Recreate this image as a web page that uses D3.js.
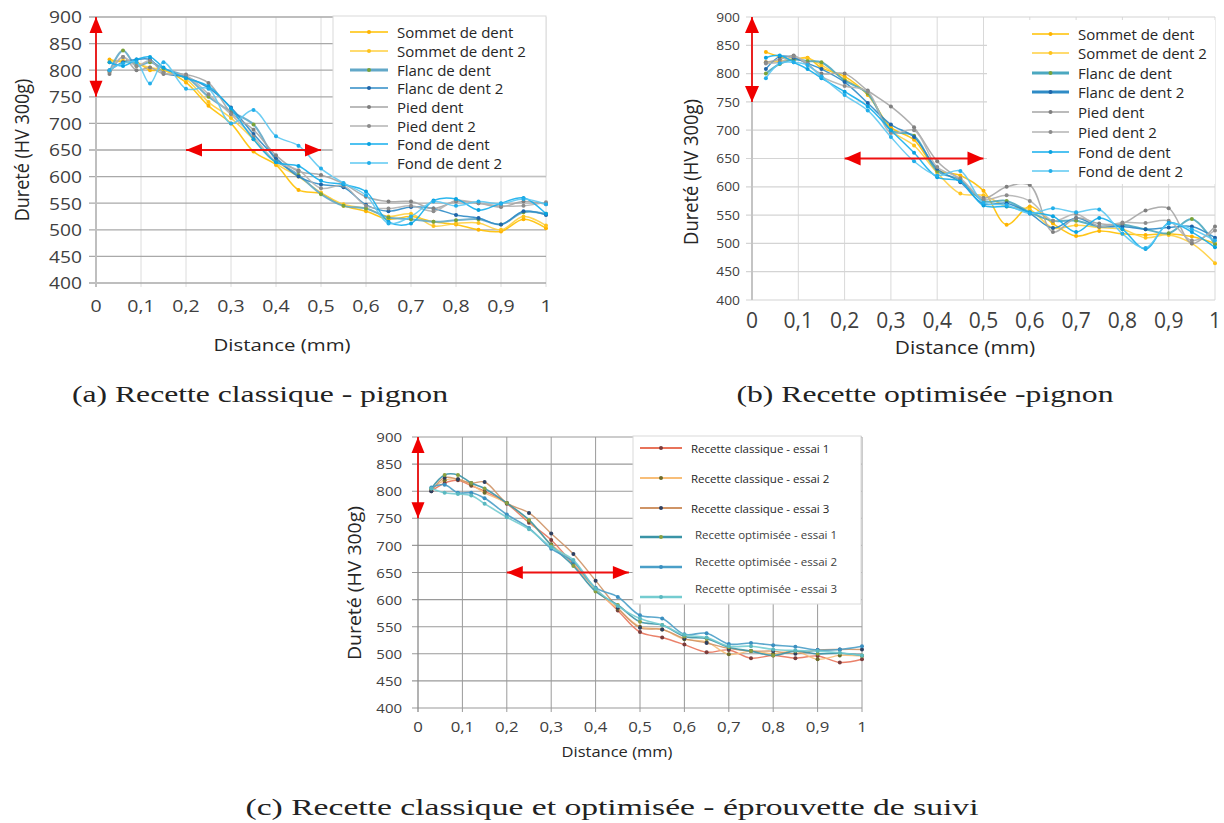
<!DOCTYPE html>
<html><head><meta charset="utf-8">
<script src="https://cdn.jsdelivr.net/npm/d3@7"></script>
<style>html,body{margin:0;padding:0;background:#fff;}svg{display:block;}</style>
</head><body>
<svg id="c" width="1224" height="823"></svg>
<script>
// ---------- data ----------
const distances = [0.03,0.06,0.09,0.12,0.15,0.2,0.25,0.3,0.35,0.4,0.45,0.5,0.55,0.6,0.65,0.7,0.75,0.8,0.85,0.9,0.95,1];
const xTickVals = [0,0.1,0.2,0.3,0.4,0.5,0.6,0.7,0.8,0.9,1];
const xTickLabels = ["0","0,1","0,2","0,3","0,4","0,5","0,6","0,7","0,8","0,9","1"];
const yTickVals = [400,450,500,550,600,650,700,750,800,850,900];

const namesAB = ["Sommet de dent","Sommet de dent 2","Flanc de dent","Flanc de dent 2","Pied dent","Pied dent 2","Fond de dent","Fond de dent 2"];
const namesC = ["Recette classique - essai 1","Recette classique - essai 2","Recette classique - essai 3","Recette optimisée - essai 1","Recette optimisée - essai 2","Recette optimisée - essai 3"];

// (a) Recette classique - pignon
const aSommet1 = [820,815,815,800,800,777,733,700,647,622,575,568,545,535,520,525,515,510,500,497,520,503];
const aSommet2 = [815,818,812,805,800,783,740,710,670,625,600,570,548,540,525,530,507,512,513,500,525,508];
const aFlanc1  = [797,837,808,815,803,788,750,722,698,632,603,567,545,540,523,520,515,518,520,510,533,530];
const aFlanc2  = [800,815,820,820,795,787,767,730,680,635,600,585,580,547,535,543,540,528,522,510,535,528];
const aPied1   = [793,825,800,805,793,792,776,720,688,640,610,603,587,562,553,553,540,553,550,543,553,548];
const aPied2   = [797,825,808,818,795,790,755,717,675,628,612,578,583,545,540,545,535,555,550,545,545,552];
const aFond1   = [815,808,820,825,805,785,770,728,670,627,620,592,585,572,515,512,555,558,537,550,560,530];
const aFond2   = [800,813,815,775,815,765,765,700,725,676,658,615,588,565,512,525,553,545,553,549,558,548];

// (b) Recette optimisée - pignon
const bSommet1 = [838,830,825,828,810,795,762,705,683,630,620,593,533,565,535,513,522,517,515,517,512,500];
const bSommet2 = [820,822,825,827,815,790,765,700,673,625,588,585,565,560,527,532,528,525,510,515,500,465];
const bFlanc1  = [800,817,825,822,820,788,765,700,690,628,612,575,575,555,540,540,530,533,525,518,543,498];
const bFlanc2  = [808,830,828,818,808,785,748,710,688,632,608,570,571,553,527,545,530,530,525,528,530,510];
const bPied1   = [820,825,832,815,800,800,770,742,705,645,612,580,600,603,520,545,535,535,558,562,500,530];
const bPied2   = [818,820,830,818,795,778,768,695,700,635,615,578,585,575,540,552,530,537,536,540,505,523];
const bFond1   = [828,832,820,808,792,768,742,700,660,617,610,567,565,555,548,520,545,525,490,536,520,493];
const bFond2   = [792,818,820,815,795,762,735,688,645,620,628,572,568,553,562,555,560,517,492,535,525,505];

// (c) Recette classique et optimisée - éprouvette de suivi
const cClass1 = [800,815,820,810,800,777,742,710,665,620,580,540,530,517,503,507,492,497,492,496,484,490];
const cClass2 = [803,820,822,812,797,778,745,702,668,618,583,550,545,527,522,499,505,500,505,490,497,496];
const cClass3 = [800,825,822,815,817,778,760,722,684,635,585,548,545,528,520,510,505,505,500,507,508,508];
const cOpt1   = [805,830,830,815,805,778,747,700,662,615,590,559,553,532,528,512,505,497,505,500,501,497];
const cOpt2   = [807,812,797,797,787,757,732,694,670,622,605,571,565,536,538,518,520,516,513,507,508,514];
const cOpt3   = [805,797,795,792,777,752,730,697,673,620,588,565,553,535,530,514,514,508,506,505,502,497];

// red arrows [x1, y1, x2, y2] in data units
const arrowsAB = [[0,900,0,750],[0.2,650,0.5,650]];
const arrowsC  = [[0,900,0,750],[0.2,650,0.475,650]];

const captions = ["(a) Recette classique - pignon","(b) Recette optimisée -pignon","(c) Recette classique et optimisée - éprouvette de suivi"];

// ---------- styles ----------
const colorsAB = ["#FFC000","#FFCF3F","#62A8C8","#2E8BC6","#A5A5A5","#B3B3B3","#14AEEC","#5CC8F2"];
const markersAB = ["#FFB300","#FFC21A","#7AA33A","#1F64A8","#7F7F7F","#8C8C8C","#0AA2E0","#22AEEA"];
const widthsAB = [1.5,1.5,2,1.5,1.5,1.5,1.5,1.5];
const colorsC = ["#E8735A","#F8BE78","#CF9466","#3A94A6","#4A9FC8","#74CCD0"];
const markersC = ["#7A3B3B","#6B6B2B","#2F3F5F","#8AA040","#3B8FC0","#5AB8C0"];

const FONT = "'Open Sans', sans-serif";
const svg = d3.select("#c");

function txt(parent, x, y, s, o) {
  const g = parent.append("g").attr("transform",
    `translate(${x},${y}) scale(${o.sx||1},${o.sy||1})` + (o.rot ? ` rotate(${o.rot})` : ""));
  const t = g.append("text")
    .attr("text-anchor", o.anchor || "start")
    .attr("dominant-baseline", o.base || "auto")
    .style("font-family", o.family || FONT)
    .style("font-size", o.size + "px")
    .style("font-weight", o.weight || 400)
    .attr("fill", o.color || "#404040")
    .text(s);
  if (o.len) t.attr("textLength", o.len).attr("lengthAdjust", "spacingAndGlyphs");
  return t;
}

function arrow(g, x, y, a, hl, hw) {
  const x1 = x(a[0]), y1 = y(a[1]), x2 = x(a[2]), y2 = y(a[3]);
  g.append("line").attr("x1", x1).attr("y1", y1).attr("x2", x2).attr("y2", y2)
    .attr("stroke", "#EE1111").attr("stroke-width", 1.8);
  const head = (tx, ty, dx, dy) => {
    const L = Math.hypot(dx, dy), ux = dx / L, uy = dy / L;
    const bx = tx - ux * hl, by = ty - uy * hl;
    g.append("path").attr("d",
      `M${tx},${ty}L${bx - uy * hw},${by + ux * hw}L${bx + uy * hw},${by - ux * hw}Z`)
      .attr("fill", "#F00000");
  };
  head(x1, y1, x1 - x2, y1 - y2);
  head(x2, y2, x2 - x1, y2 - y1);
}

function drawChart(cfg) {
  const x = d3.scaleLinear().domain([0, 1]).range([cfg.x0, cfg.x1]);
  const y = d3.scaleLinear().domain([400, 900]).range([cfg.yB, cfg.yT]);
  const g = svg.append("g");

  // vertical grid
  g.selectAll("line.vg").data(xTickVals.slice(1)).join("line")
    .attr("x1", d => x(d)).attr("x2", d => x(d))
    .attr("y1", y(900)).attr("y2", y(400) + cfg.tick)
    .attr("stroke", cfg.vGrid).attr("stroke-width", 1);
  // horizontal grid
  g.selectAll("line.hg").data(yTickVals).join("line")
    .attr("x1", x(0) - cfg.ext).attr("x2", x(1))
    .attr("y1", d => y(d)).attr("y2", d => y(d))
    .attr("stroke", cfg.hGrid).attr("stroke-width", cfg.hW);
  // y axis
  g.append("line").attr("x1", x(0)).attr("x2", x(0)).attr("y1", y(900)).attr("y2", y(400) + cfg.tick)
    .attr("stroke", cfg.axis).attr("stroke-width", cfg.axisW);

  // tick labels
  yTickVals.forEach(v => txt(g, cfg.yLabX, y(v), String(v),
    {size: cfg.yLabSize, anchor: "end", base: "central", sx: cfg.yLabSx, color: cfg.labColor}));
  xTickVals.forEach((v, i) => txt(g, x(v), cfg.xLabY, xTickLabels[i],
    {size: cfg.xLabSize, anchor: "middle", sx: cfg.xLabSx, color: cfg.labColor}));

  // titles
  txt(g, cfg.xTitle[0], cfg.xTitle[1], "Distance (mm)",
    {size: cfg.xTitleSize, anchor: "middle", sx: cfg.xTitleSx, color: cfg.titleColor});
  txt(g, cfg.yTitle[0], cfg.yTitle[1], "Dureté (HV 300g)",
    {size: cfg.yTitleSize, anchor: "middle", base: "central", rot: -90, sy: cfg.yTitleSy, color: cfg.titleColor});

  // series
  const line = d3.line().x(d => x(d[0])).y(d => y(d[1])).curve(d3.curveCatmullRom.alpha(0.5));
  cfg.series.forEach((s, i) => {
    const pts = distances.map((d, k) => [d, s[k]]);
    g.append("path").datum(pts).attr("d", line).attr("fill", "none")
      .attr("stroke", cfg.colors[i]).attr("stroke-width", cfg.widths[i]).attr("stroke-opacity", 0.9);
    g.selectAll(null).data(pts).join("circle")
      .attr("cx", d => x(d[0])).attr("cy", d => y(d[1])).attr("r", 2)
      .attr("fill", cfg.markers[i]);
  });

  // arrows
  cfg.arrows.forEach(a => arrow(g, x, y, a, cfg.headL, cfg.headW));

  // legend
  const L = cfg.legend;
  g.append("rect").attr("x", L.x).attr("y", L.y).attr("width", L.w).attr("height", L.h)
    .attr("fill", "#fff").attr("stroke", L.stroke).attr("stroke-width", 1);
  cfg.names.forEach((n, i) => {
    const ly = L.lineY[i];
    g.append("line").attr("x1", L.lx0).attr("x2", L.lx1).attr("y1", ly).attr("y2", ly)
      .attr("stroke", cfg.colors[i]).attr("stroke-width", L.lw[i]);
    g.append("circle").attr("cx", (L.lx0 + L.lx1) / 2).attr("cy", ly).attr("r", 2).attr("fill", cfg.markers[i]);
    txt(g, L.tx[i], L.textY[i], n, {size: L.size, base: "central", color: L.color[i], sx: L.sx || 1});
  });
}

// (a)
drawChart({
  x0: 96, x1: 546, yT: 17, yB: 283, tick: 4, ext: 7,
  hGrid: "#A9A9A9", hW: 1.3, vGrid: "#DCDCDC", axis: "#BFBFBF", axisW: 2,
  yLabX: 82, yLabSize: 16, yLabSx: 1.2, xLabY: 312, xLabSize: 17, xLabSx: 1.15, labColor: "#404040",
  xTitle: [282, 351], xTitleSize: 17, xTitleSx: 1.2, yTitle: [22, 150], yTitleSize: 20, yTitleSy: 0.9, titleColor: "#262626",
  series: [aSommet1,aSommet2,aFlanc1,aFlanc2,aPied1,aPied2,aFond1,aFond2],
  colors: colorsAB, markers: markersAB, widths: widthsAB, names: namesAB,
  arrows: arrowsAB, headL: 16, headW: 6.5,
  legend: {x: 333, y: 16, w: 213, h: 160, stroke: "#D9D9D9", lx0: 350, lx1: 388,
    lineY: [32,51,70,88,107,126,144,163], textY: [32,51,70,88,107,126,144,163],
    tx: Array(8).fill(397), size: 15, color: Array(8).fill("#262626"),
    lw: [1.5,1.5,3,1.5,1.5,1.5,1.5,1.5]}
});

// (b)
drawChart({
  x0: 752, x1: 1215, yT: 17, yB: 300, tick: 0, ext: 6,
  hGrid: "#D4D4D4", hW: 1.2, vGrid: "#D9D9D9", axis: "#C4C4C4", axisW: 2,
  yLabX: 740, yLabSize: 12, yLabSx: 1.15, xLabY: 328, xLabSize: 21, xLabSx: 1, labColor: "#404040",
  xTitle: [965, 354], xTitleSize: 19, xTitleSx: 1.1, yTitle: [690, 172], yTitleSize: 20, yTitleSy: 0.92, titleColor: "#262626",
  series: [bSommet1,bSommet2,bFlanc1,bFlanc2,bPied1,bPied2,bFond1,bFond2],
  colors: colorsAB.map((c,i) => i===2 ? "#4BA8C0" : c), markers: markersAB, widths: widthsAB, names: namesAB,
  arrows: arrowsAB, headL: 16, headW: 7,
  legend: {x: 987, y: 20, w: 228, h: 164, stroke: "none", lx0: 1032, lx1: 1069,
    lineY: [34,53,73,92,112,132,152,171], textY: [34,53,73,92,112,132,152,171],
    tx: Array(8).fill(1078), size: 15, color: Array(8).fill("#262626"),
    lw: [1.5,1.5,3,3,1.5,1.5,1.5,1.5]}
});

// (c)
drawChart({
  x0: 418, x1: 862, yT: 437, yB: 708, tick: 4, ext: 6,
  hGrid: "#9A9A9A", hW: 1.1, vGrid: "#9A9A9A", axis: "#8A8A8A", axisW: 1.3,
  yLabX: 402, yLabSize: 13, yLabSx: 1.15, xLabY: 732, xLabSize: 14, xLabSx: 1.2, labColor: "#404040",
  xTitle: [617, 757], xTitleSize: 15, xTitleSx: 1.1, yTitle: [354, 583], yTitleSize: 18, yTitleSy: 1.08, titleColor: "#262626",
  series: [cClass1,cClass2,cClass3,cOpt1,cOpt2,cOpt3],
  colors: colorsC, markers: markersC, widths: [1.4,1.4,1.4,1.6,1.6,1.6], names: namesC,
  arrows: arrowsC, headL: 16, headW: 6.5,
  legend: {x: 633, y: 436, w: 228, h: 168, stroke: "#D9D9D9", lx0: 640, lx1: 682,
    lineY: [448,478,508,537,567,597], textY: [448,478,508,534,561,588],
    tx: [691,691,691,695,695,695], size: 11.5, color: ["#262626","#262626","#262626","#404040","#404040","#404040"],
    lw: [2,2,2,2.5,2.5,2.5]}
});

// captions
const capFont = "'Liberation Serif', 'DejaVu Serif', serif";
txt(svg, 260, 402, captions[0], {size: 24, anchor: "middle", family: capFont, color: "#222", len: 376});
txt(svg, 925, 402, captions[1], {size: 24, anchor: "middle", family: capFont, color: "#222", len: 377});
txt(svg, 612, 815, captions[2], {size: 24, anchor: "middle", family: capFont, color: "#222", len: 733});
</script>
</body></html>
